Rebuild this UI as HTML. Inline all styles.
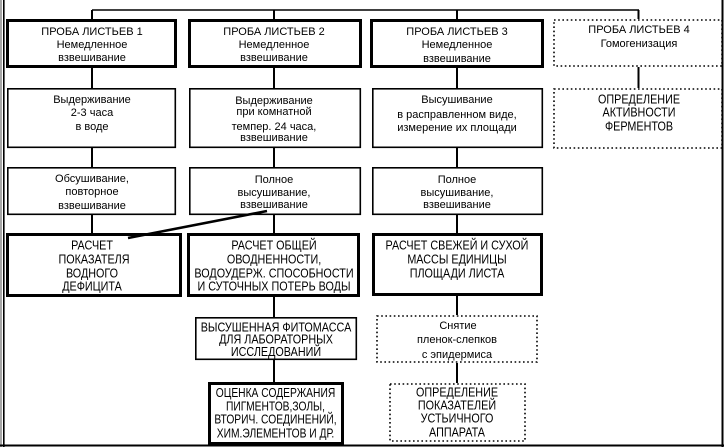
<!DOCTYPE html>
<html><head><meta charset="utf-8"><style>
html,body{margin:0;padding:0;background:#fff;width:724px;height:447px;overflow:hidden}
svg{display:block}
text{font-family:"Liberation Sans",Arial,sans-serif;fill:#000}
.s{font-size:11px;text-anchor:middle}
.c{font-size:13px;text-anchor:middle}
</style></head><body>
<svg width="724" height="447" viewBox="0 0 724 447" xmlns="http://www.w3.org/2000/svg">
<!-- frame -->
<line x1="1" y1="0" x2="1" y2="447" stroke="#888" stroke-width="1.5"/>
<line x1="3.8" y1="0" x2="3.8" y2="447" stroke="#000" stroke-width="1.6"/>
<line x1="722.5" y1="0" x2="722.5" y2="447" stroke="#000" stroke-width="2"/>
<line x1="0" y1="445.5" x2="724" y2="445.5" stroke="#000" stroke-width="2"/>

<g stroke="#000" fill="none">
<!-- top connector -->
<line x1="92" y1="10" x2="639" y2="10" stroke-width="1.6"/>
<!-- verticals -->
<g stroke-width="2">
<line x1="92" y1="10" x2="92" y2="19"/>
<line x1="92" y1="68" x2="92" y2="88"/>
<line x1="92" y1="148" x2="92" y2="167"/>
<line x1="92" y1="215" x2="92" y2="233"/>
<line x1="274" y1="10" x2="274" y2="19"/>
<line x1="274" y1="68" x2="274" y2="88"/>
<line x1="274" y1="148" x2="274" y2="167"/>
<line x1="274" y1="215" x2="274" y2="233"/>
<line x1="274" y1="297" x2="274" y2="317"/>
<line x1="274" y1="360" x2="274" y2="383"/>
<line x1="457" y1="10" x2="457" y2="19"/>
<line x1="457" y1="68" x2="457" y2="88"/>
<line x1="457" y1="148" x2="457" y2="167"/>
<line x1="457" y1="215" x2="457" y2="233"/>
<line x1="457" y1="296" x2="457" y2="315"/>
<line x1="457" y1="363" x2="457" y2="383"/>
<line x1="638.5" y1="10" x2="638.5" y2="19"/>
<line x1="638.5" y1="67" x2="638.5" y2="88"/>
</g>
<!-- diagonal -->
<line x1="267" y1="211" x2="128" y2="238" stroke-width="2.5"/>

<!-- thick boxes -->
<g stroke-width="3">
<rect x="7.5" y="20.5" width="168" height="46"/>
<rect x="189.5" y="20.5" width="171" height="46"/>
<rect x="371.5" y="20.5" width="171" height="46"/>
<rect x="7.5" y="234.5" width="173" height="61"/>
<rect x="188.5" y="234.5" width="170" height="61"/>
<rect x="373.5" y="234.5" width="168" height="60"/>
<rect x="209.5" y="383.5" width="133" height="60"/>
</g>
<!-- thin boxes -->
<g stroke-width="1.6">
<rect x="7.8" y="88.8" width="167.5" height="58.5"/>
<rect x="189.8" y="88.8" width="170.5" height="58.5"/>
<rect x="372.8" y="88.8" width="169.5" height="58.5"/>
<rect x="7.8" y="167.8" width="167.5" height="46.5"/>
<rect x="189.8" y="167.8" width="170.5" height="46.5"/>
<rect x="372.8" y="167.8" width="169.5" height="46.5"/>
<rect x="195.8" y="317.8" width="160.5" height="41.5"/>
</g>
<!-- dotted boxes -->
<g stroke-width="1.6" stroke-dasharray="1.6 2.6">
<rect x="554" y="20" width="168" height="46"/>
<rect x="554" y="89" width="168" height="59"/>
<rect x="377" y="316" width="160" height="46"/>
<rect x="390" y="384" width="135" height="57"/>
</g>
</g>

<!-- column 1 -->
<text class="s" x="92" y="35">ПРОБА ЛИСТЬЕВ 1</text>
<text class="s" x="92" y="48">Немедленное</text>
<text class="s" x="92" y="61">взвешивание</text>
<text class="s" x="92" y="103">Выдерживание</text>
<text class="s" x="92" y="116">2-3 часа</text>
<text class="s" x="92" y="130">в воде</text>
<text class="s" x="92" y="182">Обсушивание,</text>
<text class="s" x="92" y="195">повторное</text>
<text class="s" x="92" y="209">взвешивание</text>
<text class="c" transform="translate(92 249.6) scale(0.83 1)">РАСЧЕТ</text>
<text class="c" transform="translate(94 263.6) scale(0.83 1)">ПОКАЗАТЕЛЯ</text>
<text class="c" transform="translate(92 277.6) scale(0.83 1)">ВОДНОГО</text>
<text class="c" transform="translate(92 290.6) scale(0.83 1)">ДЕФИЦИТА</text>

<!-- column 2 -->
<text class="s" x="274" y="35">ПРОБА ЛИСТЬЕВ 2</text>
<text class="s" x="274" y="48">Немедленное</text>
<text class="s" x="274" y="61">взвешивание</text>
<text class="s" x="274" y="104">Выдерживание</text>
<text class="s" x="274" y="115">при комнатной</text>
<text class="s" x="274" y="130">темпер. 24 часа,</text>
<text class="s" x="274" y="141">взвешивание</text>
<text class="s" x="274" y="183">Полное</text>
<text class="s" x="274" y="196">высушивание,</text>
<text class="s" x="274" y="208">взвешивание</text>
<text class="c" transform="translate(274 249.6) scale(0.83 1)">РАСЧЕТ ОБЩЕЙ</text>
<text class="c" transform="translate(274 263.6) scale(0.83 1)">ОВОДНЕННОСТИ,</text>
<text class="c" transform="translate(274 277.6) scale(0.83 1)">ВОДОУДЕРЖ. СПОСОБНОСТИ</text>
<text class="c" transform="translate(274 290.6) scale(0.83 1)">И СУТОЧНЫХ ПОТЕРЬ ВОДЫ</text>
<text class="c" transform="translate(276 331.6) scale(0.83 1)">ВЫСУШЕННАЯ ФИТОМАССА</text>
<text class="c" transform="translate(276 343.6) scale(0.83 1)">ДЛЯ ЛАБОРАТОРНЫХ</text>
<text class="c" transform="translate(276 356) scale(0.83 1)">ИССЛЕДОВАНИЙ</text>
<text class="c" transform="translate(275.5 397) scale(0.79 1)">ОЦЕНКА СОДЕРЖАНИЯ</text>
<text class="c" transform="translate(275.5 410.6) scale(0.79 1)">ПИГМЕНТОВ,ЗОЛЫ,</text>
<text class="c" transform="translate(275.5 423.6) scale(0.79 1)">ВТОРИЧ. СОЕДИНЕНИЙ,</text>
<text class="c" transform="translate(275.5 437.4) scale(0.79 1)">ХИМ.ЭЛЕМЕНТОВ И ДР.</text>

<!-- column 3 -->
<text class="s" x="457" y="35">ПРОБА ЛИСТЬЕВ 3</text>
<text class="s" x="457" y="48">Немедленное</text>
<text class="s" x="457" y="62">взвешивание</text>
<text class="s" x="457" y="103">Высушивание</text>
<text class="s" x="457" y="118">в расправленном виде,</text>
<text class="s" x="457" y="131">измерение их площади</text>
<text class="s" x="457" y="183">Полное</text>
<text class="s" x="457" y="196">высушивание,</text>
<text class="s" x="457" y="208">взвешивание</text>
<text class="c" transform="translate(457 249.6) scale(0.83 1)">РАСЧЕТ СВЕЖЕЙ И СУХОЙ</text>
<text class="c" transform="translate(457 263.6) scale(0.83 1)">МАССЫ ЕДИНИЦЫ</text>
<text class="c" transform="translate(457 277.6) scale(0.83 1)">ПЛОЩАДИ ЛИСТА</text>
<text class="s" x="458" y="329">Снятие</text>
<text class="s" x="457" y="343">пленок-слепков</text>
<text class="s" x="457" y="358">с эпидермиса</text>
<text class="c" transform="translate(457 396.6) scale(0.83 1)">ОПРЕДЕЛЕНИЕ</text>
<text class="c" transform="translate(457 409.6) scale(0.83 1)">ПОКАЗАТЕЛЕЙ</text>
<text class="c" transform="translate(457 422.6) scale(0.83 1)">УСТЬИЧНОГО</text>
<text class="c" transform="translate(457 436.6) scale(0.83 1)">АППАРАТА</text>

<!-- column 4 -->
<text class="s" x="639" y="33">ПРОБА ЛИСТЬЕВ 4</text>
<text class="s" x="639" y="47">Гомогенизация</text>
<text class="c" transform="translate(639 103.6) scale(0.83 1)">ОПРЕДЕЛЕНИЕ</text>
<text class="c" transform="translate(639 116.6) scale(0.83 1)">АКТИВНОСТИ</text>
<text class="c" transform="translate(639 130.6) scale(0.83 1)">ФЕРМЕНТОВ</text>
</svg>
</body></html>
